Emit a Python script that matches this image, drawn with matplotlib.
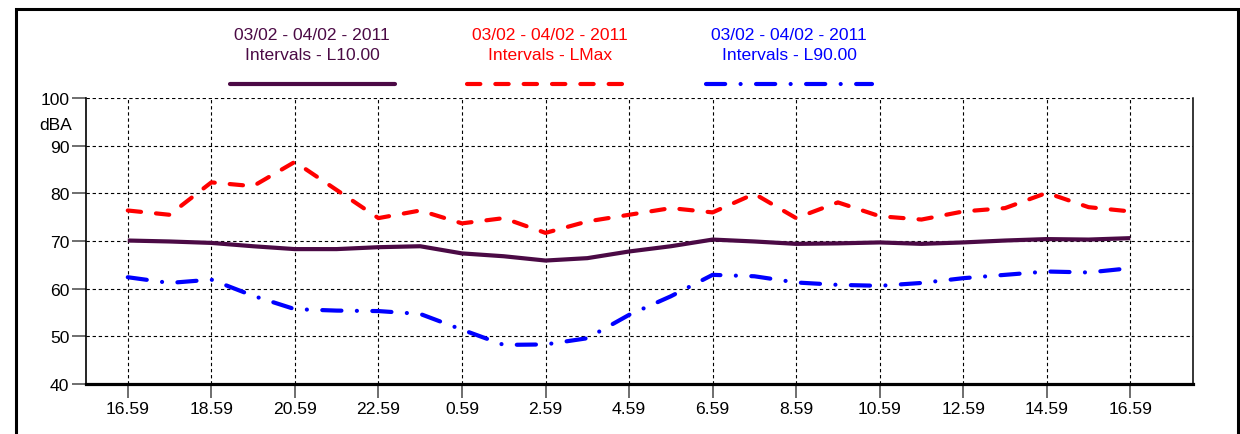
import matplotlib
matplotlib.use('Agg')
import matplotlib.pyplot as plt
from matplotlib.lines import Line2D
from matplotlib.patches import Rectangle

plt.rcParams['font.family'] = ['Liberation Sans', 'DejaVu Sans']

# ---- data ----
hours = list(range(25))
tick_pos = list(range(0, 25, 2))
tick_labels = ['16.59', '18.59', '20.59', '22.59', '0.59', '2.59', '4.59',
               '6.59', '8.59', '10.59', '12.59', '14.59', '16.59']
y_ticks = [40, 50, 60, 70, 80, 90, 100]

l10 = [70.1, 69.9, 69.6, 68.9, 68.3, 68.3, 68.7, 68.9, 67.4, 66.8, 65.9, 66.4,
       67.8, 68.9, 70.3, 69.9, 69.4, 69.5, 69.7, 69.4, 69.7, 70.1, 70.4, 70.3, 70.6]
lmax = [76.4, 75.5, 82.3, 81.5, 86.6, 80.7, 74.8, 76.4, 73.7, 74.8, 71.7, 74.1,
        75.5, 76.9, 76.0, 79.9, 74.8, 78.1, 75.2, 74.5, 76.2, 76.9, 80.1, 77.1, 76.2]
l90 = [62.4, 61.2, 61.9, 58.5, 55.7, 55.4, 55.3, 54.7, 51.4, 48.2, 48.3, 49.6,
       54.5, 58.4, 62.9, 62.6, 61.3, 60.8, 60.6, 61.2, 62.2, 62.9, 63.6, 63.4, 64.3]

legend_line1 = '03/02 - 04/02 - 2011'
names = ['Intervals - L10.00', 'Intervals - LMax', 'Intervals - L90.00']

PURPLE = '#4b0a45'
RED = '#ff0000'
BLUE = '#0000ff'

W, H = 1240, 435
fig = plt.figure(figsize=(W / 100, H / 100), dpi=100)
ax = fig.add_axes([86 / W, 1 - 385 / H, (1193 - 86) / W, (385 - 99) / H])

ax.set_xlim(-1, 25.5)
ax.set_ylim(40, 100)

styles = {
    'l10': dict(color=PURPLE, lw=3.0, linestyle='-', solid_capstyle='butt'),
    'lmax': dict(color=RED, lw=3.0, linestyle=(0, (3.2, 3.6)), dash_capstyle='round'),
    'l90': dict(color=BLUE, lw=3.0, linestyle=(0, (4.6, 3.7, 0.01, 3.7)), dash_capstyle='round'),
}

ax.plot(hours, lmax, **styles['lmax'], zorder=3)
ax.plot(hours, l10, **styles['l10'], zorder=4)
ax.plot(hours, l90, **styles['l90'], zorder=3)

ax.set_xticks(tick_pos)
ax.set_xticklabels(tick_labels)
ax.set_yticks(y_ticks)
ax.set_yticklabels([str(v) for v in y_ticks])

ax.grid(True, color='black', lw=0.8, linestyle=(0, (3, 2.5)), zorder=1)
ax.tick_params(axis='both', length=10, width=1.2, color='#555555',
               labelsize=12.6, pad=2, direction='out')

ax.spines['top'].set_visible(False)
ax.spines['left'].set_linewidth(1.2)
ax.spines['right'].set_linewidth(1.1)
ax.spines['bottom'].set_linewidth(2.3)
for s in ax.spines.values():
    s.set_zorder(5)

# y unit label
fig.text(72 / W, 1 - 125 / H, 'dBA', ha='right', va='center', fontsize=12.6)

# custom legend (text above a line sample)
centers = [312, 550, 789]
spans = [(230, 395), (467, 628), (706, 872)]
colors = [PURPLE, RED, BLUE]
keys = ['l10', 'lmax', 'l90']
for c, (x0, x1), col, name, k in zip(centers, spans, colors, names, keys):
    fig.text(c / W, 1 - 35 / H, legend_line1, ha='center', va='center',
             fontsize=12.6, color=col)
    fig.text(c / W, 1 - 56 / H, name, ha='center', va='center',
             fontsize=12.6, color=col)
    st = dict(styles[k])
    fig.add_artist(Line2D([x0 / W, x1 / W], [1 - 85 / H, 1 - 85 / H],
                          transform=fig.transFigure,
                          solid_capstyle='round', **{kk: v for kk, v in st.items() if kk != 'solid_capstyle'}))

# outer border
fig.add_artist(Rectangle((16 / W, -0.1), (1238 - 16) / W, 1 - 10 / H + 0.1,
                         transform=fig.transFigure, fill=False, lw=2.2,
                         ec='black', clip_on=False))

fig.savefig('out.png', dpi=100)
